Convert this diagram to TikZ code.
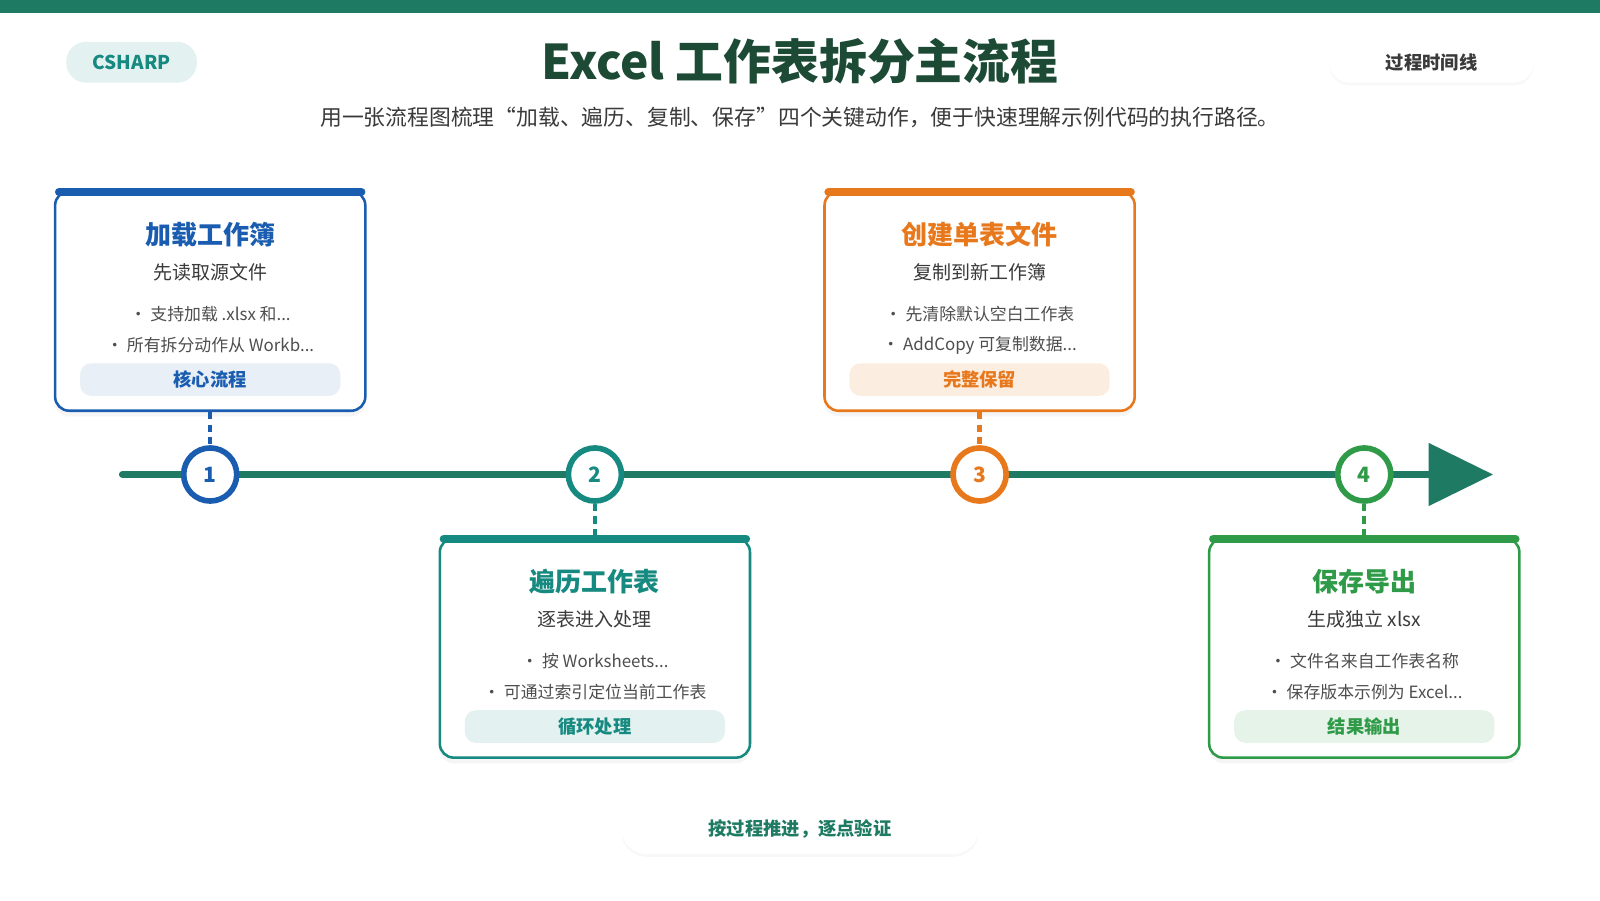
\documentclass[tikz,border=0pt]{standalone}
\usepackage{fontspec}
\setmainfont{Noto Sans CJK SC}
\usetikzlibrary{shadows}
\definecolor{bandgreen}{HTML}{1E7A62}
\definecolor{titlegreen}{HTML}{1C4A35}
\definecolor{textgray}{HTML}{3A3A3A}
\definecolor{stepblue}{HTML}{1A5DB0}
\definecolor{stepteal}{HTML}{168A80}
\definecolor{steporange}{HTML}{E8781C}
\definecolor{stepgreen}{HTML}{2F9A48}
\tikzset{
  card/.style={draw=#1, line width=2.6pt*0.7, rounded corners=10pt, fill=white,
    minimum width=304*0.0255cm, minimum height=215*0.0255cm,
    drop shadow={opacity=0.08, shadow xshift=0pt, shadow yshift=-4pt}},
  tag/.style={fill=#1, rounded corners=8pt, minimum width=255*0.0255cm, minimum height=32*0.0255cm},
  stepdot/.style={circle, draw=#1, line width=4pt, fill=white, minimum size=52*0.0255cm,
    font=\fontsize{15}{15}\selectfont\bfseries, text=#1, inner sep=0pt},
  pill/.style={fill=white, rounded corners=14pt, drop shadow={opacity=0.05, shadow xshift=0pt, shadow yshift=-2pt}},
}
% one step card: name, x, top y, colour, tag fill, title, subtitle, bullet 1, bullet 2
\newcommand\stepcard[9]{%
  \node[card=#4] (#1) at (#2,#3+107) {};
  \draw[#4, line width=6pt, line cap=round] (#2-148,#3) -- (#2+148,#3);
  \node[font=\fontsize{18.5}{18.5}\selectfont\bfseries, text=#4] (#1-title) at (#2,#3+42) {#6};
  \node[font=\fontsize{13.5}{13.5}\selectfont, text=textgray] (#1-sub) at (#2,#3+79) {#7};
  \node[font=\fontsize{12}{12}\selectfont, text=textgray!90] (#1-b1) at (#2,#3+120) {• #8};
  \node[font=\fontsize{12}{12}\selectfont, text=textgray!90] (#1-b2) at (#2,#3+150) {• #9};
  \node[tag=#5] (#1-tag) at (#2,#3+184) {};
}
\begin{document}
\begin{tikzpicture}[x=0.0255cm, y=-0.0255cm]
  \useasboundingbox[fill=white] (0,0) rectangle (1568,882);
  \fill[bandgreen] (0,0) rectangle (1568,13);

  % header
  \node[fill=stepteal!12, rounded corners=14pt, minimum width=128*0.0255cm, minimum height=40*0.0255cm,
    font=\fontsize{13.5}{13.5}\selectfont\bfseries, text=stepteal] (lang) at (129,61) {CSHARP};
  \node[font=\fontsize{34}{34}\selectfont\bfseries, text=titlegreen] (title) at (784,60) {Excel 工作表拆分主流程};
  \node[font=\fontsize{15.5}{15.5}\selectfont, text=textgray] (subtitle) at (784,115)
    {用一张流程图梳理“加载、遍历、复制、保存”四个关键动作，便于快速理解示例代码的执行路径。};
  \node[pill, minimum width=200*0.0255cm, minimum height=40*0.0255cm,
    font=\fontsize{13}{13}\selectfont\bfseries, text=textgray] (timeline-tag) at (1403,61) {过程时间线};

  % timeline
  \coordinate (axis-start) at (120,465);
  \coordinate (axis-end) at (1405,465);
  \draw[bandgreen, line width=5pt, line cap=round] (axis-start) -- (axis-end);
  \fill[bandgreen] (1400,434) -- (1463,465) -- (1400,496) -- cycle;

  % cards
  \stepcard{load}{206}{188}{stepblue}{stepblue!10}{加载工作簿}{先读取源文件}{支持加载 .xlsx 和...}{所有拆分动作从 Workb...}
  \node[font=\fontsize{13}{13}\selectfont\bfseries, text=stepblue] at (load-tag) {核心流程};
  \stepcard{loop}{583}{528}{stepteal}{stepteal!12}{遍历工作表}{逐表进入处理}{按 Worksheets...}{可通过索引定位当前工作表}
  \node[font=\fontsize{13}{13}\selectfont\bfseries, text=stepteal] at (loop-tag) {循环处理};
  \stepcard{copy}{960}{188}{steporange}{steporange!13}{创建单表文件}{复制到新工作簿}{先清除默认空白工作表}{AddCopy 可复制数据...}
  \node[font=\fontsize{13}{13}\selectfont\bfseries, text=steporange] at (copy-tag) {完整保留};
  \stepcard{save}{1337}{528}{stepgreen}{stepgreen!12}{保存导出}{生成独立 xlsx}{文件名来自工作表名称}{保存版本示例为 Excel...}
  \node[font=\fontsize{13}{13}\selectfont\bfseries, text=stepgreen] at (save-tag) {结果输出};

  % step dots
  \node[stepdot=stepblue] (dot1) at (206,465) {1};
  \node[stepdot=stepteal] (dot2) at (583,465) {2};
  \node[stepdot=steporange] (dot3) at (960,465) {3};
  \node[stepdot=stepgreen] (dot4) at (1337,465) {4};
  \draw[stepblue, line width=3pt, dash pattern=on 5pt off 4pt] (load.south) -- (dot1.north);
  \draw[stepteal, line width=3pt, dash pattern=on 5pt off 4pt] (dot2.south) -- (loop.north);
  \draw[steporange, line width=3pt, dash pattern=on 5pt off 4pt] (copy.south) -- (dot3.north);
  \draw[stepgreen, line width=3pt, dash pattern=on 5pt off 4pt] (dot4.south) -- (save.north);

  % footer
  \node[pill, rounded corners=18pt, minimum width=350*0.0255cm, minimum height=50*0.0255cm,
    font=\fontsize{13}{13}\selectfont\bfseries, text=bandgreen] (motto) at (784,812) {按过程推进，逐点验证};
\end{tikzpicture}
\end{document}
